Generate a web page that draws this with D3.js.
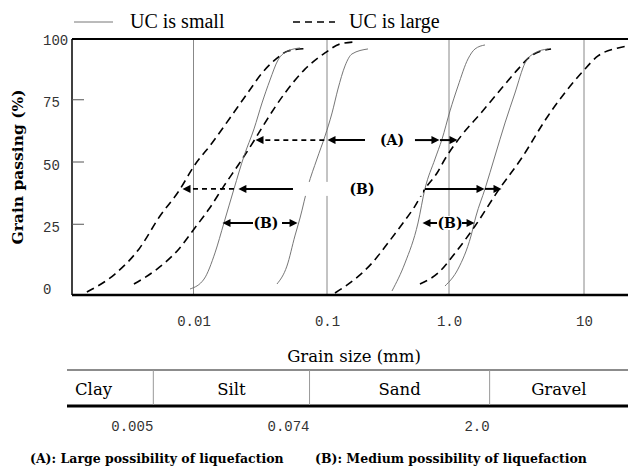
<!DOCTYPE html>
<html>
<head>
<meta charset="utf-8">
<script src="https://cdn.jsdelivr.net/npm/d3@7"></script>
<style>
body { margin: 0; background: #fff; }
svg { display: block; }
</style>
</head>
<body>
<div id="chart"></div>
<script>
// grading curves : [grain size (mm), passing (%)]
var fineLargeA = [[0.00159,-2.4],[0.00258,4.8],[0.00391,14.9],[0.00561,28.1],[0.00778,38.2],[0.0101,48.2],[0.01377,57.4],[0.01876,67.5],[0.02606,78.3],[0.03258,85.5],[0.04076,90.8],[0.0511,94.4],[0.0684,95.3]];
var fineLargeB = [[0.00358,0.8],[0.00533,6.8],[0.00778,14.9],[0.0101,22.9],[0.01306,30.9],[0.0169,40.2],[0.0219,49.0],[0.0289,59.0],[0.0332,64.3],[0.0484,77.5],[0.0684,87.1],[0.0966,93.6],[0.128,97.2],[0.1696,98.0]];
var fineSmallA = [[0.00942,-1.2],[0.0120,2.8],[0.01449,13.3],[0.0169,25.3],[0.0201,39.0],[0.0239,52.2],[0.0284,63.1],[0.0326,73.5],[0.0374,82.7],[0.0430,90.8],[0.0511,94.4],[0.0628,95.6]];
var fineSmallB = [[0.0422,0.8],[0.0501,8.0],[0.0575,20.1],[0.0628,27.3],[0.0721,40.2],[0.0841,51.0],[0.0966,60.2],[0.110,69.5],[0.123,79.1],[0.1405,88.4],[0.1603,93.2],[0.2168,95.2]];
var coarseSmallA = [[0.341,-2.0],[0.4357,9.2],[0.557,25.3],[0.635,39.0],[0.768,51.0],[0.877,59.0],[1.017,70.3],[1.166,80.3],[1.383,91.2],[1.559,95.2],[1.848,96.8]];
var coarseLargeA = [[0.1163,-2.8],[0.1696,2.8],[0.2338,9.2],[0.3162,17.3],[0.4198,25.3],[0.526,32.1],[0.635,39.0],[0.798,45.4],[0.927,51.0],[1.227,60.2],[1.726,69.5],[2.428,79.1],[3.245,87.1],[4.05,92.4],[5.70,95.2]];
var coarseSmallB = [[0.927,0],[1.166,6.8],[1.455,20.1],[1.585,28.1],[1.848,39.0],[2.19,52.2],[2.60,65.5],[3.08,77.5],[3.66,89.6],[4.33,93.6],[5.41,95.2]];
var coarseLargeB = [[0.578,0.8],[0.813,5.2],[1.127,13.7],[1.559,24.1],[2.307,38.2],[3.415,51.0],[5.41,68.3],[9.84,86.3],[12.7,92.4],[17.9,95.6],[21.2,96.4],[26,96.8]];

var xTicks = [0.01, 0.1, 1, 10];
var xTickLabels = ["0.01", "0.1", "1.0", "10"];
var yTicks = [0, 25, 50, 75, 100];

var soilNames = ["Clay", "Silt", "Sand", "Gravel"];
var soilBounds = [0.005, 0.074, 2.0];
var soilBoundLabels = ["0.005", "0.074", "2.0"];

// arrow rows : level (%), label and its grain size, segments [from, to (arrow head), style]
var arrowLevels = [58.6, 39.0, 25.3, 25.3];
var arrowLabels = ["(A)", "(B)", "(B)", "(B)"];
var arrowLabelAt = [0.341, 0.1936, 0.0349, 1.017];
var arrowSegs = [
    [[0.0955, 0.0289, "dash"], [0.2049, 0.1, "solid"], [0.526, 0.843, "solid"], [0.843, 1.166, "solid"]],
    [[0.0201, 0.0082, "dash"], [0.0556, 0.0215, "solid"], [0.635, 1.848, "solid"], [1.848, 2.47, "solid"]],
    [[0.0279, 0.01635, "solid"], [0.046, 0.0607, "solid"]],
    [[0.798, 0.601, "solid"], [1.248, 1.559, "solid"]]
];

var notes = ["(A): Large possibility of liquefaction", "(B): Medium possibility of liquefaction"];

var width = 628, height = 466;
var plot = { left: 72, top: 39, right: 628, bottom: 295 };
var serif = "'DejaVu Serif', 'Noto Serif', 'FreeSerif', 'Liberation Serif', 'Times New Roman', serif",
    times = "'Liberation Serif', 'Tinos', 'Times New Roman', 'DejaVu Serif', serif",
    mono = "'Liberation Mono', monospace";

var x = d3.scaleLog().domain(xTicks).range([193.5, 327, 449, 584]);
var y = d3.scaleLinear().domain([0, 100]).range([286, 37]);

var svg = d3.select("#chart").append("svg")
    .attr("width", width)
    .attr("height", height);

var defs = svg.append("defs");
defs.append("clipPath").attr("id", "clip")
    .append("rect")
    .attr("x", plot.left).attr("y", plot.top)
    .attr("width", plot.right - plot.left).attr("height", plot.bottom - plot.top);

defs.append("marker")
    .attr("id", "head")
    .attr("viewBox", "0 0 10 10")
    .attr("refX", 5).attr("refY", 5)
    .attr("markerWidth", 9).attr("markerHeight", 8)
    .attr("markerUnits", "userSpaceOnUse")
    .attr("orient", "auto")
    .append("path")
    .attr("d", "M0,0L10,5L0,10z")
    .attr("fill", "#000");

// legend
svg.append("line")
    .attr("x1", 74).attr("x2", 113).attr("y1", 22).attr("y2", 22)
    .attr("stroke", "#777").attr("stroke-width", 1);
svg.append("text")
    .attr("x", 130).attr("y", 28)
    .attr("font-family", times).attr("font-size", 20)
    .text("UC is small");
svg.append("line")
    .attr("x1", 293).attr("x2", 335).attr("y1", 22).attr("y2", 22)
    .attr("stroke", "#000").attr("stroke-width", 1.6)
    .attr("stroke-dasharray", "7,5");
svg.append("text")
    .attr("x", 349).attr("y", 28)
    .attr("font-family", times).attr("font-size", 20)
    .text("UC is large");

// vertical grid lines
svg.append("g")
    .selectAll("line")
    .data(xTicks)
    .enter()
    .append("line")
    .attr("x1", function (d) { return x(d); })
    .attr("x2", function (d) { return x(d); })
    .attr("y1", plot.top)
    .attr("y2", plot.bottom)
    .attr("stroke", "#888")
    .attr("stroke-width", 1);

// curves
var curves = [
    { pts: fineLargeA, large: true }, { pts: fineLargeB, large: true },
    { pts: fineSmallA, large: false }, { pts: fineSmallB, large: false },
    { pts: coarseSmallA, large: false }, { pts: coarseLargeA, large: true },
    { pts: coarseSmallB, large: false }, { pts: coarseLargeB, large: true }
];

var line = d3.line()
    .x(function (d) { return x(d[0]); })
    .y(function (d) { return y(d[1]); })
    .curve(d3.curveMonotoneX);

svg.append("g")
    .attr("clip-path", "url(#clip)")
    .selectAll("path")
    .data(curves)
    .enter()
    .append("path")
    .attr("d", function (d) { return line(d.pts); })
    .attr("fill", "none")
    .attr("stroke", function (d) { return d.large ? "#000" : "#666"; })
    .attr("stroke-width", function (d) { return d.large ? 1.6 : 0.9; })
    .attr("stroke-dasharray", function (d) { return d.large ? "8,5" : null; });

// annotation arrows
var ann = svg.append("g");
arrowLevels.forEach(function (lvl, i) {
    var yy = y(lvl),
        at = arrowLabelAt[i],
        segs = arrowSegs[i];

    // white gap between the two inner arrow tails
    var lefts = segs.filter(function (s) { return s[0] < at; }).map(function (s) { return s[0]; }),
        rights = segs.filter(function (s) { return s[0] > at; }).map(function (s) { return s[0]; });
    var gx0 = x(d3.max(lefts)) + 2, gx1 = x(d3.min(rights)) - 2;
    ann.append("rect")
        .attr("x", gx0).attr("y", yy - 7)
        .attr("width", gx1 - gx0).attr("height", 14)
        .attr("fill", "#fff");

    segs.forEach(function (s) {
        var x0 = x(s[0]), x1 = x(s[1]);
        var dir = x1 > x0 ? 1 : -1;
        ann.append("line")
            .attr("x1", x0).attr("x2", x1 - dir * 4.5)
            .attr("y1", yy).attr("y2", yy)
            .attr("stroke", "#000")
            .attr("stroke-width", s[2] === "dash" ? 1.6 : 2)
            .attr("stroke-dasharray", s[2] === "dash" ? "5,4" : null)
            .attr("marker-end", "url(#head)");
    });

    ann.append("text")
        .attr("x", x(at)).attr("y", yy + 5)
        .attr("text-anchor", "middle")
        .attr("font-family", serif).attr("font-size", 14).attr("font-weight", "bold")
        .text(arrowLabels[i]);
});

// frame
svg.append("line")
    .attr("x1", plot.left).attr("x2", plot.right).attr("y1", plot.top).attr("y2", plot.top)
    .attr("stroke", "#000").attr("stroke-width", 2);
svg.append("line")
    .attr("x1", plot.left).attr("x2", plot.left).attr("y1", plot.top).attr("y2", plot.bottom)
    .attr("stroke", "#000").attr("stroke-width", 1.5);
svg.append("line")
    .attr("x1", plot.left).attr("x2", plot.right).attr("y1", plot.bottom).attr("y2", plot.bottom)
    .attr("stroke", "#000").attr("stroke-width", 2.5);

// y axis : ticks inward, labels on the left
var yAxis = svg.append("g")
    .attr("transform", "translate(" + plot.left + ",0)")
    .call(d3.axisRight(y).tickValues(yTicks).tickSize(12).tickFormat(d3.format("d")));
yAxis.select(".domain").remove();
yAxis.selectAll(".tick line")
    .attr("stroke", "#555")
    .attr("opacity", function (d) { return d === 0 || d === 100 ? 0 : 1; });
yAxis.selectAll(".tick text")
    .attr("x", -29)
    .attr("dy", "0.55em")
    .attr("text-anchor", "start")
    .attr("fill", "#333")
    .attr("font-family", mono).attr("font-size", 14);

svg.append("text")
    .attr("transform", "translate(23,167) rotate(-90)")
    .attr("text-anchor", "middle")
    .attr("font-family", serif).attr("font-size", 15.5).attr("font-weight", "bold")
    .text("Grain passing (%)");

// x axis labels
var xAxis = svg.append("g")
    .attr("transform", "translate(0," + plot.bottom + ")")
    .call(d3.axisBottom(x).tickValues(xTicks).tickSize(0).tickPadding(21)
        .tickFormat(function (d, i) { return xTickLabels[i]; }));
xAxis.select(".domain").remove();
xAxis.selectAll(".tick text")
    .attr("fill", "#333")
    .attr("font-family", mono).attr("font-size", 14);

svg.append("text")
    .attr("x", 354).attr("y", 362)
    .attr("text-anchor", "middle")
    .attr("font-family", serif).attr("font-size", 16.5)
    .text("Grain size (mm)");

// soil class table
var tableTop = 370, tableBottom = 406, tableLeft = 67;
svg.append("line")
    .attr("x1", tableLeft).attr("x2", plot.right).attr("y1", tableTop).attr("y2", tableTop)
    .attr("stroke", "#666").attr("stroke-width", 1.5);
svg.append("line")
    .attr("x1", tableLeft).attr("x2", plot.right).attr("y1", tableBottom).attr("y2", tableBottom)
    .attr("stroke", "#000").attr("stroke-width", 3);

svg.append("g")
    .selectAll("line")
    .data(soilBounds)
    .enter()
    .append("line")
    .attr("x1", function (d) { return x(d); })
    .attr("x2", function (d) { return x(d); })
    .attr("y1", tableTop).attr("y2", tableBottom - 1)
    .attr("stroke", "#999").attr("stroke-width", 1);

var cellEdges = [tableLeft].concat(soilBounds.map(function (d) { return x(d); }), [plot.right]);
svg.append("g")
    .selectAll("text")
    .data(soilNames)
    .enter()
    .append("text")
    .attr("x", function (d, i) { return i === 0 ? cellEdges[0] + 8 : (cellEdges[i] + cellEdges[i + 1]) / 2; })
    .attr("y", 395)
    .attr("text-anchor", function (d, i) { return i === 0 ? "start" : "middle"; })
    .attr("font-family", serif).attr("font-size", 16.5)
    .text(function (d) { return d; });

svg.append("g")
    .selectAll("text")
    .data(soilBounds)
    .enter()
    .append("text")
    .attr("x", function (d) { return x(d); })
    .attr("y", 431)
    .attr("text-anchor", "end")
    .attr("fill", "#333")
    .attr("font-family", mono).attr("font-size", 14)
    .text(function (d, i) { return soilBoundLabels[i]; });

// notes
svg.append("text")
    .attr("x", 30).attr("y", 463)
    .attr("font-family", serif).attr("font-size", 12.5).attr("font-weight", "bold")
    .text(notes[0]);
svg.append("text")
    .attr("x", 315).attr("y", 463)
    .attr("font-family", serif).attr("font-size", 12.5).attr("font-weight", "bold")
    .text(notes[1]);
</script>
</body>
</html>
